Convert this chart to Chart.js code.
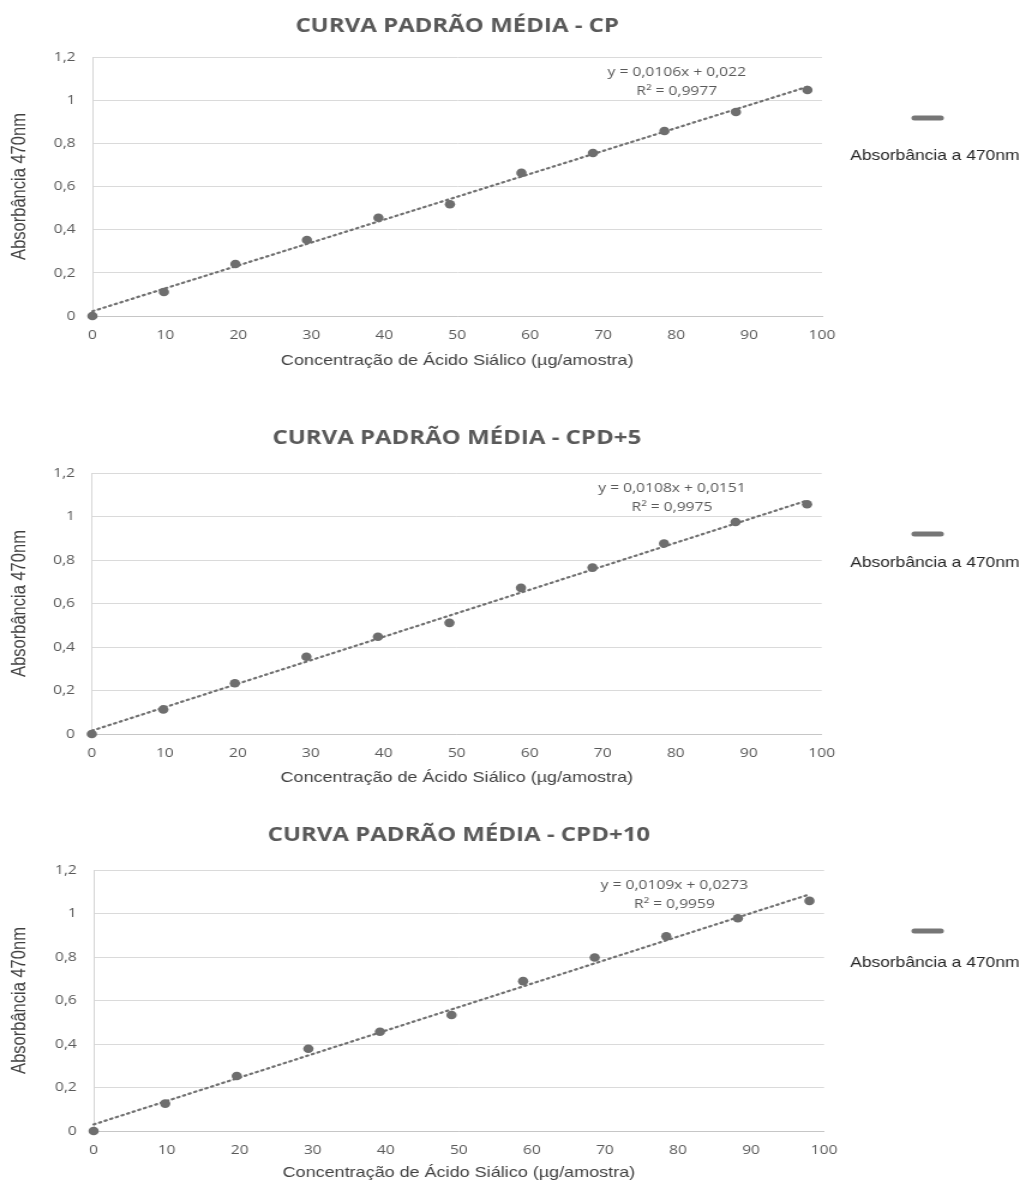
<!DOCTYPE html>
<html>
<head>
<meta charset="utf-8">
<script src="https://cdn.jsdelivr.net/npm/chart.js@4/dist/chart.umd.min.js"></script>
<style>
  html, body { margin: 0; padding: 0; background: #ffffff; overflow: hidden; width: 1033px; height: 1182px; }
  .panel { position: absolute; left: 0; transform: scaleX(1.2); transform-origin: 0 0; }
  canvas { display: block; }
</style>
</head>
<body>
<div class="panel" style="top:0px"><canvas id="c0" width="861" height="376"></canvas></div>
<div class="panel" style="top:416px"><canvas id="c1" width="861" height="378"></canvas></div>
<div class="panel" style="top:813px"><canvas id="c2" width="861" height="378"></canvas></div>
<script>
// ---------- DATA ----------
const chartTitles = ['CURVA PADRÃO MÉDIA - CP', 'CURVA PADRÃO MÉDIA - CPD+5', 'CURVA PADRÃO MÉDIA - CPD+10'];
const seriesLabel = 'Absorbância a 470nm';
const xAxisTitle = 'Concentração de Ácido Siálico (µg/amostra)';
const yAxisTitle = 'Absorbância 470nm';
const concentration = [0, 9.8, 19.6, 29.4, 39.2, 49, 58.8, 68.6, 78.4, 88.2, 98];
const absorbanceCP = [0, 0.111, 0.241, 0.352, 0.455, 0.518, 0.663, 0.755, 0.857, 0.945, 1.047];
const absorbanceCPD5 = [0, 0.113, 0.233, 0.355, 0.447, 0.511, 0.672, 0.765, 0.876, 0.975, 1.056];
const absorbanceCPD10 = [0, 0.126, 0.253, 0.378, 0.456, 0.533, 0.689, 0.798, 0.895, 0.978, 1.058];
const trendX = [0, 98];
const trendCP = [0.022, 1.062];
const trendCPD5 = [0.0151, 1.0735];
const trendCPD10 = [0.0300, 1.088];
const equationTexts = ['y = 0,0106x + 0,022', 'y = 0,0108x + 0,0151', 'y = 0,0109x + 0,0273'];
const r2Texts = ['R² = 0,9977', 'R² = 0,9975', 'R² = 0,9959'];
const xTickLabels = ['0', '10', '20', '30', '40', '50', '60', '70', '80', '90', '100'];
const yTickLabels = ['0', '0,2', '0,4', '0,6', '0,8', '1', '1,2'];

const seriesList = [absorbanceCP, absorbanceCPD5, absorbanceCPD10];
const trendList = [trendCP, trendCPD5, trendCPD10];

// ---------- LAYOUT (canvas units, page is stretched 1.2x horizontally) ----------
const layoutCfg = [
  { left: 77,   rightPad: 176,   titlePadTop: 14, titlePadBottom: 19, xTitlePadBottom: 6, eqX: 564, legendTextDy: 99 },
  { left: 76.5, rightPad: 176.3, titlePadTop: 10, titlePadBottom: 23, xTitlePadBottom: 7, eqX: 560, legendTextDy: 90 },
  { left: 78,   rightPad: 174.3, titlePadTop: 10, titlePadBottom: 23, xTitlePadBottom: 9, eqX: 562, legendTextDy: 93 }
];

const GREY_TEXT = '#595959';
const POINT_COLOR = '#6e6e6e';

function makeOverlayPlugin(i) {
  const cfg = layoutCfg[i];
  return {
    id: 'overlay' + i,
    afterDraw(chart) {
      const ctx = chart.ctx;
      const area = chart.chartArea;
      ctx.save();
      // trendline equation
      ctx.fillStyle = GREY_TEXT;
      ctx.font = '13px "Open Sans"';
      ctx.textAlign = 'center';
      ctx.textBaseline = 'middle';
      ctx.fillText(equationTexts[i], cfg.eqX, area.top + 15);
      ctx.fillText(r2Texts[i], cfg.eqX, area.top + 34);
      // legend (symbol above text)
      const ly = area.top + 61;
      ctx.strokeStyle = '#767676';
      ctx.lineWidth = 5;
      ctx.lineCap = 'round';
      ctx.beginPath();
      ctx.moveTo(762, ly);
      ctx.lineTo(784, ly);
      ctx.stroke();
      ctx.fillStyle = '#262626';
      ctx.font = '14.5px "Liberation Sans", Arial, sans-serif';
      ctx.fillText(chart.data.datasets[0].label, 779, area.top + cfg.legendTextDy);
      ctx.restore();
    }
  };
}

function buildChart(i) {
  const cfg = layoutCfg[i];
  const pts = concentration.map((x, k) => ({ x: x, y: seriesList[i][k] }));
  const trend = trendX.map((x, k) => ({ x: x, y: trendList[i][k] }));
  return new Chart(document.getElementById('c' + i), {
    type: 'scatter',
    data: {
      datasets: [
        {
          label: seriesLabel,
          data: pts,
          showLine: false,
          pointRadius: 4.3,
          pointHoverRadius: 4.3,
          pointBackgroundColor: POINT_COLOR,
          pointBorderWidth: 0,
          clip: false
        },
        {
          label: 'Linear (' + seriesLabel + ')',
          data: trend,
          showLine: true,
          pointRadius: 0,
          borderColor: '#707070',
          borderWidth: 2.2,
          borderDash: [1.6, 3.4],
          borderCapStyle: 'round',
          fill: false,
          clip: false
        }
      ]
    },
    options: {
      responsive: false,
      animation: false,
      events: [],
      layout: { padding: { left: 0, right: cfg.rightPad, top: 0, bottom: 0 } },
      plugins: {
        legend: { display: false },
        tooltip: { enabled: false },
        title: {
          display: true,
          text: chartTitles[i],
          fullSize: false,
          color: GREY_TEXT,
          font: { family: '"Open Sans"', size: 20, weight: 'bold', lineHeight: 1.2 },
          padding: { top: cfg.titlePadTop, bottom: cfg.titlePadBottom }
        }
      },
      scales: {
        x: {
          type: 'linear',
          min: 0,
          max: 100,
          afterFit(scale) { scale.height = 60; },
          afterBuildTicks(scale) { scale.ticks = xTickLabels.map(t => ({ value: Number(t) })); },
          ticks: {
            color: GREY_TEXT,
            font: { family: '"Open Sans"', size: 13 },
            padding: 11,
            maxRotation: 0,
            autoSkip: false,
            callback: (v, idx) => xTickLabels[idx]
          },
          grid: { display: false, drawTicks: false },
          border: { display: true, color: '#c6c6c6', width: 1 },
          title: {
            display: true,
            text: xAxisTitle,
            color: '#404040',
            font: { family: '"Liberation Sans", Arial, sans-serif', size: 15, lineHeight: 1.2 },
            padding: { top: 0, bottom: cfg.xTitlePadBottom }
          }
        },
        y: {
          type: 'linear',
          min: 0,
          max: 1.2,
          afterFit(scale) { scale.width = cfg.left; },
          afterBuildTicks(scale) { scale.ticks = yTickLabels.map(t => ({ value: Number(t.replace(',', '.')) })); },
          ticks: {
            color: GREY_TEXT,
            font: { family: '"Open Sans"', size: 13 },
            padding: 14,
            autoSkip: false,
            callback: (v, idx) => yTickLabels[idx]
          },
          grid: { display: true, color: '#dadada', lineWidth: 1, drawTicks: false },
          border: { display: true, color: '#d6d6d6', width: 1 },
          title: {
            display: true,
            text: yAxisTitle,
            color: '#404040',
            font: { family: '"Liberation Sans", Arial, sans-serif', size: 16.5, lineHeight: 1.2 },
            padding: { top: 7, bottom: 0 }
          }
        }
      }
    },
    plugins: [makeOverlayPlugin(i)]
  });
}

[0, 1, 2].forEach(buildChart);
</script>
</body>
</html>
